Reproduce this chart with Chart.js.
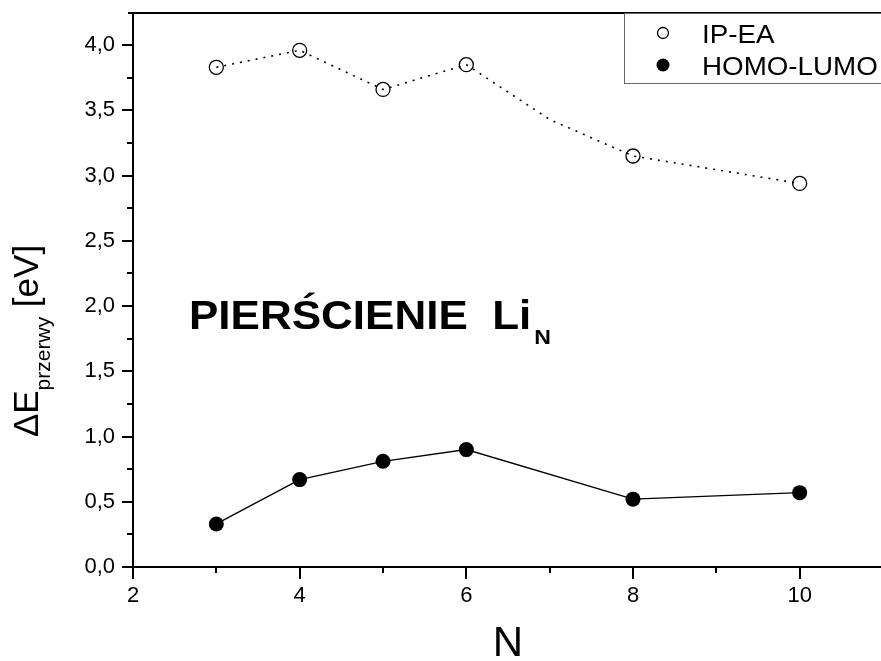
<!DOCTYPE html>
<html><head><meta charset="utf-8">
<script src="https://cdn.jsdelivr.net/npm/chart.js@4"></script>
<style>html,body{margin:0;padding:0;background:#fff}#wrap{width:881px;height:661px}</style>
</head><body><div id="wrap"><canvas id="c" width="881" height="661"></canvas></div>
<script>
// Data
const nIpEa = [3, 4, 5, 6, 7, 8, 10];
const ipEa = [3.83, 3.96, 3.66, 3.85, 3.43, 3.15, 2.94];
const ipEaNoMarkerAt = [7];
const nHomoLumo = [3, 4, 5, 6, 8, 10];
const homoLumo = [0.33, 0.67, 0.81, 0.90, 0.52, 0.57];
const xTickLabels = [2, 4, 6, 8, 10];
const yTickLabels = ['0,0','0,5','1,0','1,5','2,0','2,5','3,0','3,5','4,0'];
const seriesNames = ['IP-EA', 'HOMO-LUMO'];
const titleText = 'PIERŚCIENIE  Li';
const titleSub = 'N';

const FONT = 'Arial, "Liberation Sans", sans-serif';

const ipPoints = nIpEa.map((n, i) => ({x: n, y: ipEa[i]}));
const hlPoints = nHomoLumo.map((n, i) => ({x: n, y: homoLumo[i]}));

function stretchedText(ctx, text, x, y, sx) {
  ctx.save();
  ctx.translate(x, y);
  ctx.scale(sx, 1);
  ctx.fillText(text, 0, 0);
  ctx.restore();
  return ctx.measureText(text).width * sx;
}

const decor = {
  id: 'decor',
  afterDraw(chart) {
    const ctx = chart.ctx, a = chart.chartArea;
    const xs = chart.scales.x, ys = chart.scales.y;
    ctx.save();
    ctx.strokeStyle = '#000';
    ctx.lineWidth = 2;
    // top frame line
    ctx.beginPath(); ctx.moveTo(a.left - 5, a.top); ctx.lineTo(chart.width, a.top); ctx.stroke();
    // x ticks
    for (let v = 2; v <= 10; v++) {
      const px = Math.round(xs.getPixelForValue(v));
      const len = v % 2 === 0 ? 12 : 6;
      ctx.beginPath(); ctx.moveTo(px, a.bottom); ctx.lineTo(px, a.bottom + len); ctx.stroke();
    }
    // y ticks
    for (let k = 0; k <= 16; k++) {
      const v = k * 0.25;
      const py = Math.round(ys.getPixelForValue(v));
      const len = k % 2 === 0 ? 11 : 6;
      ctx.beginPath(); ctx.moveTo(a.left, py); ctx.lineTo(a.left - len, py); ctx.stroke();
    }
    // x axis title
    ctx.fillStyle = '#000';
    ctx.font = '42px ' + FONT;
    ctx.textAlign = 'center'; ctx.textBaseline = 'alphabetic';
    ctx.fillText('N', 508, 656);
    // y axis title (rotated, with subscript)
    ctx.save();
    ctx.translate(38, 341);
    ctx.rotate(-Math.PI / 2);
    ctx.textAlign = 'left';
    const bigF = '35px ' + FONT, subF = '21px ' + FONT;
    ctx.font = bigF; const w1 = ctx.measureText('ΔE').width;
    ctx.font = subF; const w2 = ctx.measureText('przerwy').width;
    ctx.font = bigF; const w3 = ctx.measureText(' [eV]').width;
    let x0 = -(w1 + w2 + w3) / 2;
    ctx.font = bigF; ctx.fillText('ΔE', x0, 0); x0 += w1;
    ctx.font = subF; ctx.fillText('przerwy', x0, 12); x0 += w2;
    ctx.font = bigF; ctx.fillText(' [eV]', x0, 0);
    ctx.restore();
    // in-plot title
    ctx.textAlign = 'left';
    ctx.font = 'bold 40px ' + FONT;
    const tw = stretchedText(ctx, titleText, 189, 329, 1.1);
    ctx.font = 'bold 21px ' + FONT;
    stretchedText(ctx, titleSub, 189 + tw + 3, 344, 1.1);
    // legend box
    ctx.lineWidth = 1;
    ctx.strokeStyle = '#666';
    ctx.strokeRect(624.5, 13.5, 300, 70);
    ctx.strokeStyle = '#000';
    ctx.lineWidth = 1.3;
    ctx.beginPath(); ctx.arc(663, 33, 5.5, 0, Math.PI * 2); ctx.stroke();
    ctx.fillStyle = '#000';
    ctx.beginPath(); ctx.arc(663, 65, 6.5, 0, Math.PI * 2); ctx.fill();
    ctx.font = '25px ' + FONT;
    stretchedText(ctx, chart.data.datasets[0].label, 702, 43, 1.11);
    stretchedText(ctx, chart.data.datasets[1].label, 702, 75, 1.11);
    ctx.restore();
  }
};

new Chart(document.getElementById('c'), {
  type: 'scatter',
  data: {
    datasets: [
      {
        label: seriesNames[0],
        data: ipPoints,
        showLine: true,
        borderColor: '#000',
        borderWidth: 1.6,
        borderDash: [2, 6],
        pointRadius: c => (c.raw && ipEaNoMarkerAt.includes(c.raw.x)) ? 0 : 7,
        pointBorderWidth: 1.3,
        pointBackgroundColor: 'rgba(0,0,0,0)',
        pointBorderColor: '#000',
        tension: 0
      },
      {
        label: seriesNames[1],
        data: hlPoints,
        showLine: true,
        borderColor: '#000',
        borderWidth: 1.4,
        pointRadius: 7.5,
        pointBorderWidth: 0,
        pointBackgroundColor: '#000',
        pointBorderColor: '#000',
        tension: 0
      }
    ]
  },
  options: {
    responsive: false,
    animation: false,
    events: [],
    layout: {autoPadding: false, padding: {left: 0, top: 13, right: 0, bottom: 0}},
    plugins: {legend: {display: false}, tooltip: {enabled: false}},
    scales: {
      x: {
        type: 'linear',
        min: 2, max: 10.976,
        afterFit: s => { s.height = 94; s.paddingLeft = 0; s.paddingRight = 0; },
        afterBuildTicks: s => { s.ticks = xTickLabels.map(v => ({value: v})); },
        ticks: {
          color: '#000', padding: 16, maxRotation: 0, autoSkip: false,
          font: {family: FONT, size: 22},
          callback: v => String(v)
        },
        grid: {display: false, drawTicks: false},
        border: {display: true, color: '#000', width: 2}
      },
      y: {
        type: 'linear',
        min: 0, max: 4.246,
        afterFit: s => { s.width = 133; s.paddingTop = 0; s.paddingBottom = 0; },
        afterBuildTicks: s => { s.ticks = yTickLabels.map((t, i) => ({value: i * 0.5})); },
        ticks: {
          color: '#000', padding: 18, autoSkip: false,
          font: {family: FONT, size: 22},
          callback: (v, i) => yTickLabels[i]
        },
        grid: {display: false, drawTicks: false},
        border: {display: true, color: '#000', width: 2}
      }
    }
  },
  plugins: [decor]
});
</script>
</body></html>
